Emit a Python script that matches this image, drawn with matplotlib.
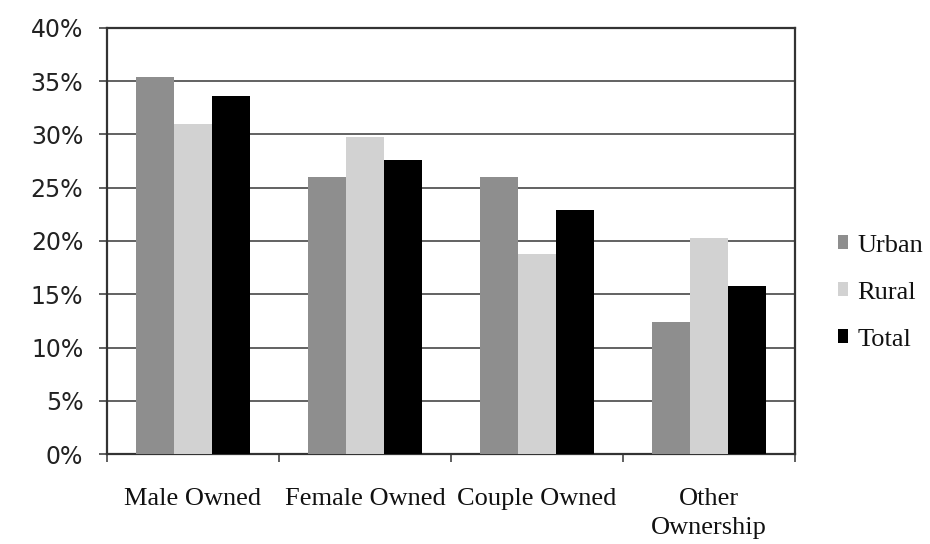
import matplotlib
matplotlib.use("Agg")
import matplotlib.pyplot as plt
import numpy as np

categories = ["Male Owned", "Female Owned", "Couple Owned", "Other\nOwnership"]
series_names = ["Urban", "Rural", "Total"]
urban = [35.4, 26.0, 26.0, 12.4]
rural = [31.0, 29.8, 18.8, 20.3]
total = [33.6, 27.6, 22.9, 15.8]
yticks = [0, 5, 10, 15, 20, 25, 30, 35, 40]
ytick_labels = ["0%", "5%", "10%", "15%", "20%", "25%", "30%", "35%", "40%"]

colors = ["#8e8e8e", "#d2d2d2", "#000000"]
label_font = dict(family="Liberation Serif")

fig = plt.figure(figsize=(9.3, 5.44), dpi=100)
ax = fig.add_axes([0.115, 0.165, 0.74, 0.784])

x = np.arange(len(categories))
width = 0.22
for i, (vals, name) in enumerate(zip([urban, rural, total], series_names)):
    ax.bar(x + (i - 1) * width, vals, width, color=colors[i], label=name, zorder=3)

ax.set_xlim(-0.5, len(categories) - 0.5)
ax.set_ylim(0, 40)
ax.set_yticks(yticks)
ax.set_yticklabels(ytick_labels, fontsize=17, color="#222222")
ax.yaxis.grid(True, color="#555555", linewidth=1.3, zorder=0)

ax.set_xticks(np.arange(-0.5, len(categories)), minor=False)
ax.set_xticklabels([])
ax.set_xticks(x, minor=True)
ax.set_xticklabels(categories, minor=True, fontsize=19, fontdict=label_font,
                   linespacing=1.45, color="#111111")
ax.tick_params(axis="x", which="minor", length=0, pad=24)
ax.tick_params(axis="x", which="major", length=6, width=1.2, direction="out", color="#444444")
ax.tick_params(axis="y", length=6, width=1.2, direction="out", color="#444444", pad=11)

for s in ax.spines.values():
    s.set_color("#333333")
    s.set_linewidth(1.6)

leg = ax.legend(loc="center left", bbox_to_anchor=(1.062, 0.379), frameon=False,
                prop=dict(size=19, **label_font), handlelength=0.4, handleheight=0.45,
                handletextpad=0.35, labelspacing=0.95, borderpad=0, borderaxespad=0)
for t in leg.get_texts():
    t.set_color("#111111")

fig.savefig("out.png", dpi=100, facecolor="white")
